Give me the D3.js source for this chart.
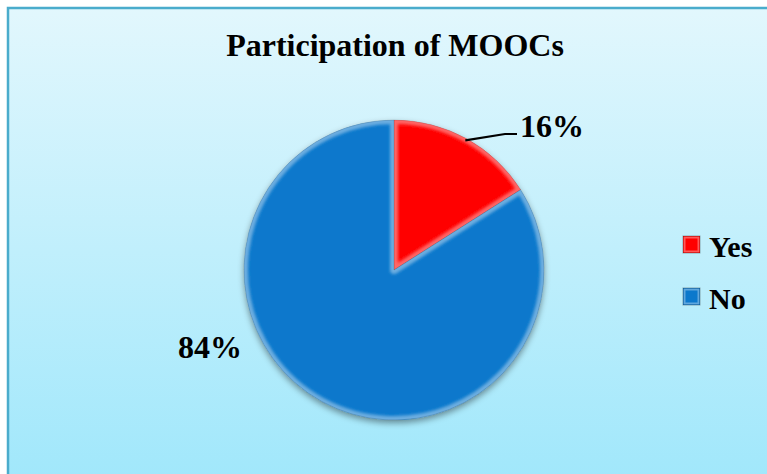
<!DOCTYPE html>
<html>
<head>
<meta charset="utf-8">
<script src="https://cdn.jsdelivr.net/npm/d3@7"></script>
<style>
  html, body { margin: 0; padding: 0; background: #ffffff; }
  svg { display: block; }
</style>
</head>
<body>
<div id="chart"></div>
<script>
const width = 767;
const height = 474;

// data
const categories = ["Yes", "No"];
const values = [16, 84];
const colors = ["#ff0000", "#0b78cc"];
const title = "Participation of MOOCs";

const cx = 394, cy = 270, r = 150;
const serif = "Liberation Serif";

const svg = d3.select("#chart").append("svg")
    .attr("width", width)
    .attr("height", height);

const defs = svg.append("defs");

// background gradient
const bg = defs.append("linearGradient").attr("id", "bg")
    .attr("x1", 0).attr("y1", 0).attr("x2", 0).attr("y2", 1);
bg.append("stop").attr("offset", "0%").attr("stop-color", "#e2f7fd");
bg.append("stop").attr("offset", "100%").attr("stop-color", "#9fe7fb");

// bevel gradient used on slice edges
const bevel = defs.append("linearGradient").attr("id", "bevel")
    .attr("gradientUnits", "userSpaceOnUse")
    .attr("x1", cx - r * 0.6).attr("y1", cy - r)
    .attr("x2", cx + r * 0.6).attr("y2", cy + r);
bevel.append("stop").attr("offset", "0%").attr("stop-color", "#ffffff").attr("stop-opacity", 0.4);
bevel.append("stop").attr("offset", "55%").attr("stop-color", "#ffffff").attr("stop-opacity", 0.12);
bevel.append("stop").attr("offset", "100%").attr("stop-color", "#000000").attr("stop-opacity", 0.35);

const shadow = defs.append("filter").attr("id", "shadow")
    .attr("x", "-20%").attr("y", "-20%").attr("width", "140%").attr("height", "140%");
shadow.append("feDropShadow").attr("dx", 0).attr("dy", 3).attr("stdDeviation", 3)
    .attr("flood-color", "#000").attr("flood-opacity", 0.4);

const soft = defs.append("filter").attr("id", "soft");
soft.append("feGaussianBlur").attr("stdDeviation", 1.5);

// frame
svg.append("rect")
    .attr("x", 8).attr("y", 8)
    .attr("width", width + 10).attr("height", height + 10)
    .attr("fill", "url(#bg)")
    .attr("stroke", "#4aaccc").attr("stroke-width", 2.5);

function label(sel, size) {
  return sel.style("font-family", serif)
      .style("font-weight", "bold")
      .style("font-size", size + "px")
      .style("fill", "#000");
}

label(svg.append("text"), 32)
    .attr("x", 395).attr("y", 56)
    .attr("text-anchor", "middle")
    .text(title);

const data = categories.map((c, i) => ({ name: c, value: values[i], color: colors[i] }));

const pie = d3.pie().sort(null).value(d => d.value);
const arc = d3.arc().innerRadius(0).outerRadius(r);
const arcs = pie(data);

const g = svg.append("g").attr("transform", `translate(${cx},${cy})`);

const slices = g.append("g").attr("filter", "url(#shadow)");

arcs.forEach((d, i) => {
  defs.append("clipPath").attr("id", "clip" + i)
    .append("path").attr("d", arc(d));
});

const sg = slices.selectAll("g.slice").data(arcs).join("g").attr("class", "slice");

sg.append("path")
    .attr("d", arc)
    .attr("fill", d => d.data.color);

// inner bevel edges
sg.append("g")
    .attr("clip-path", (d, i) => `url(#clip${i})`)
  .append("path")
    .attr("d", arc)
    .attr("fill", "none")
    .attr("stroke", "url(#bevel)")
    .attr("stroke-width", 8)
    .attr("stroke-linejoin", "round")
    .attr("filter", "url(#soft)");

sg.append("path")
    .attr("d", arc)
    .attr("fill", "none")
    .attr("stroke", "#000")
    .attr("stroke-opacity", 0.15)
    .attr("stroke-width", 0.8);

// data labels
const pct = d3.format(".0%");
const total = d3.sum(values);

// Yes label with leader line
const yes = arcs[0];
const ang = (yes.startAngle + yes.endAngle) / 2;
const p0 = [Math.sin(ang) * (r - 2), -Math.cos(ang) * (r - 2)];
g.append("polyline")
    .attr("points", [p0, [111, -136], [123, -136]].map(p => p.join(",")).join(" "))
    .attr("fill", "none").attr("stroke", "#000").attr("stroke-width", 2.2);
label(g.append("text"), 32)
    .attr("x", 126).attr("y", -133)
    .text(pct(yes.data.value / total));

label(g.append("text"), 32)
    .attr("x", -152).attr("y", 88)
    .attr("text-anchor", "end")
    .text(pct(arcs[1].data.value / total));

// legend
const legend = svg.append("g").attr("transform", "translate(683,236)");
const li = legend.selectAll("g").data(data).join("g")
    .attr("transform", (d, i) => `translate(0,${i * 52})`);
li.append("rect")
    .attr("width", 17).attr("height", 17)
    .attr("fill", d => d.color);
li.append("rect")
    .attr("x", 1.5).attr("y", 1.5).attr("width", 14).attr("height", 14)
    .attr("fill", "none").attr("stroke", "#fff").attr("stroke-opacity", 0.35).attr("stroke-width", 2);
li.append("rect")
    .attr("width", 17).attr("height", 17)
    .attr("fill", "none").attr("stroke", "#000").attr("stroke-opacity", 0.3).attr("stroke-width", 1);
label(li.append("text"), 30)
    .attr("x", 26).attr("y", 21)
    .text(d => d.name);
</script>
</body>
</html>
